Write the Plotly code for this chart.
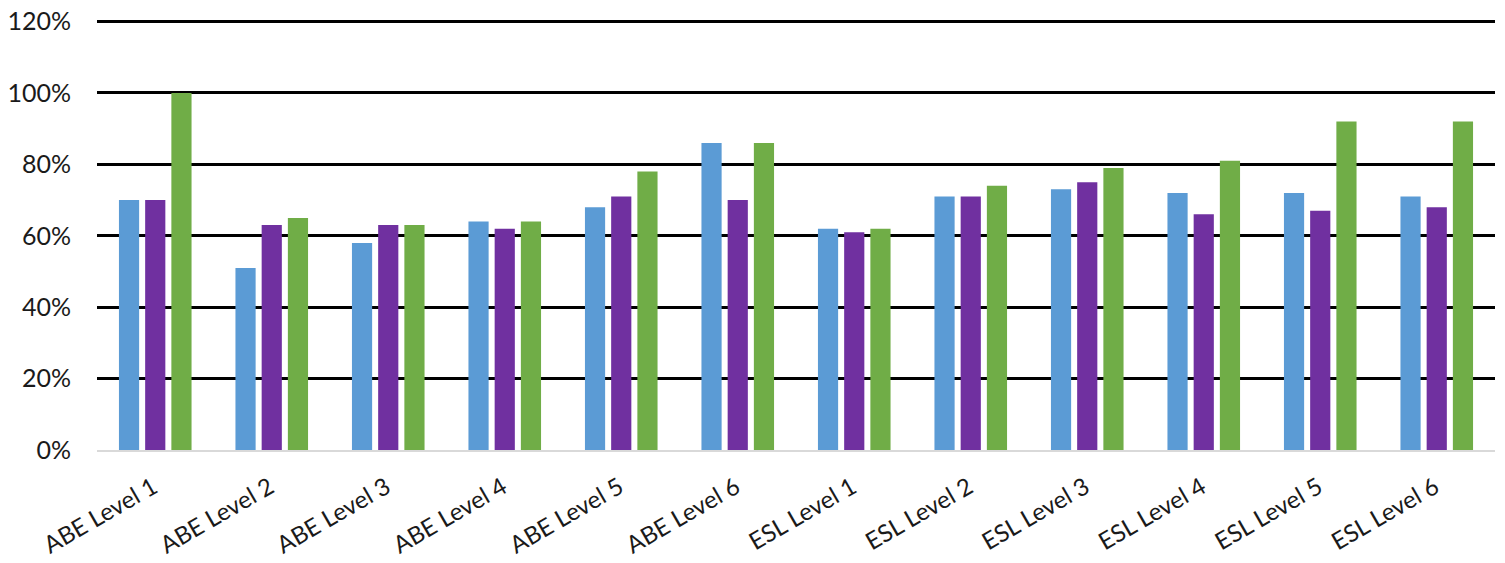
import plotly.graph_objects as go

categories = ["ABE Level 1", "ABE Level 2", "ABE Level 3", "ABE Level 4", "ABE Level 5", "ABE Level 6",
              "ESL Level 1", "ESL Level 2", "ESL Level 3", "ESL Level 4", "ESL Level 5", "ESL Level 6"]
series_blue = [0.70, 0.51, 0.58, 0.64, 0.68, 0.86, 0.62, 0.71, 0.73, 0.72, 0.72, 0.71]
series_purple = [0.70, 0.63, 0.63, 0.62, 0.71, 0.70, 0.61, 0.71, 0.75, 0.66, 0.67, 0.68]
series_green = [1.00, 0.65, 0.63, 0.64, 0.78, 0.86, 0.62, 0.74, 0.79, 0.81, 0.92, 0.92]
tick_vals = [0, 0.2, 0.4, 0.6, 0.8, 1.0, 1.2]
tick_text = ["0%", "20%", "40%", "60%", "80%", "100%", "120%"]

fig = go.Figure()
for name, vals, color in [("Series 1", series_blue, "#5B9BD5"),
                          ("Series 2", series_purple, "#7030A0"),
                          ("Series 3", series_green, "#70AD47")]:
    fig.add_trace(go.Bar(x=categories, y=vals, name=name, marker_color=color,
                         marker_line_width=0))

fig.update_layout(
    width=1505, height=563,
    margin=dict(l=97, r=10, t=18.4, b=113),
    paper_bgcolor="white", plot_bgcolor="white",
    barmode="group", bargap=0.325, bargroupgap=0.23,
    showlegend=False,
    font=dict(family="Lato, 'Liberation Sans', sans-serif", size=25, color="#1a1a1a"),
)
fig.update_yaxes(range=[0, 1.21], tickvals=tick_vals, ticktext=tick_text,
                 showgrid=True, gridcolor="black", gridwidth=2.5, automargin=False,
                 zeroline=False, showline=False, ticks="", ticklabelstandoff=25)
fig.update_xaxes(showline=True, linecolor="#D9D9D9", linewidth=2, automargin=False,
                 tickangle=-30, ticks="", ticklabelshift=-2, ticklabelstandoff=12,
                 ticklabeloverflow="allow", tickfont=dict(size=24))

fig.write_html("out.html", config={"displayModeBar": False},
               post_script="document.body.style.margin='0';")
